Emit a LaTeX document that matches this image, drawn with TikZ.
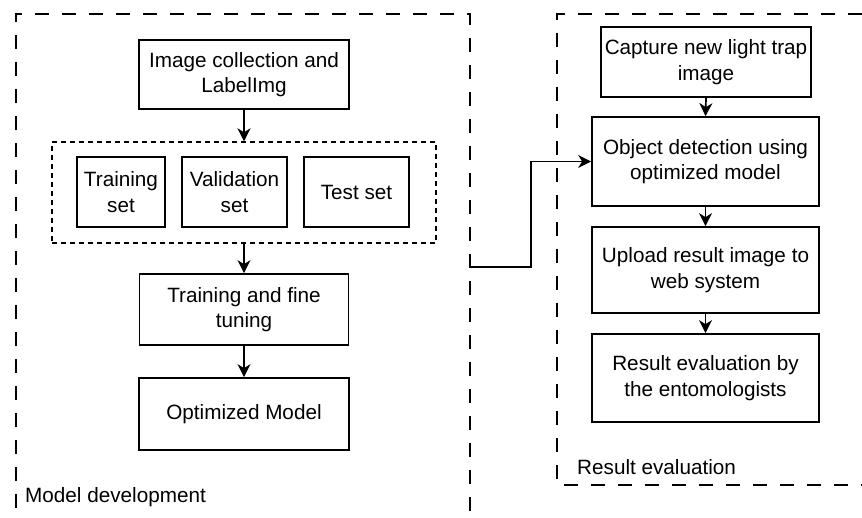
\documentclass[tikz,border=0pt]{standalone}
\usepackage{fontspec}
\setmainfont{Liberation Sans}
\usetikzlibrary{arrows.meta}
\begin{document}
\begin{tikzpicture}[x=1pt,y=-1pt,
  box/.style={draw, line width=1.7pt, align=center, inner sep=0pt,
    font=\fontsize{20.7}{25.5}\selectfont},
  arr/.style={line width=1.7pt, -{Stealth[length=13pt,width=13pt,inset=4pt]}},
  bigdash/.style={line width=1.6pt, dash pattern=on 14pt off 13pt},
  smalldash/.style={line width=1.4pt, dash pattern=on 5pt off 4pt},
  lbl/.style={anchor=west, inner sep=0pt, font=\fontsize{20.7}{25.5}\selectfont}]
\useasboundingbox (0,0) rectangle (862,518);
% containers
\draw[bigdash] (16,508) -- (16,14) -- (470,14) -- (470,518);
\draw[bigdash] (862,14) -- (557,14) -- (557,485) -- (862,485);
% left column
\node[box, minimum width=210pt, minimum height=69pt] (A) at (244,74.5) {Image collection and\\LabelImg};
\node[draw, smalldash, minimum width=384pt, minimum height=101pt, inner sep=0pt] (G) at (244,192.5) {};
\node[box, minimum width=88pt, minimum height=70pt] (T1) at (121,192) {Training\\set};
\node[box, minimum width=105pt, minimum height=70pt] (T2) at (234.5,192) {Validation\\set};
\node[box, minimum width=105pt, minimum height=70pt] (T3) at (356.5,192) {Test set};
\node[box, minimum width=209pt, minimum height=71pt] (B) at (244,309.5) {Training and fine\\tuning};
\node[box, minimum width=210pt, minimum height=72pt] (C) at (244,414) {Optimized Model};
% right column
\node[box, minimum width=210pt, minimum height=70pt] (R1) at (706,62) {Capture new light trap\\image};
\node[box, minimum width=227pt, minimum height=89pt] (R2) at (705.5,161.5) {Object detection using\\optimized model};
\node[box, minimum width=227pt, minimum height=86pt] (R3) at (705.5,270) {Upload result image to\\web system};
\node[box, minimum width=227pt, minimum height=88pt] (R4) at (705.5,378) {Result evaluation by\\the entomologists};
% labels
\node[lbl] (L1) at (25,497) {Model development};
\node[lbl] (L2) at (577,467) {Result evaluation};
% connectors
\draw[arr] (A.south) -- (G.north);
\draw[arr] (G.south) -- (B.north);
\draw[arr] (B.south) -- (C.north);
\draw[arr] (R1.south) -- (R2.north);
\draw[arr] (R2.south) -- (R3.north);
\draw[arr] (R3.south) -- (R4.north);
\coordinate (s) at (470,267);
\coordinate (k) at (531,267);
\draw[arr] (s) -- (k) |- (R2.west);
\end{tikzpicture}
\end{document}
